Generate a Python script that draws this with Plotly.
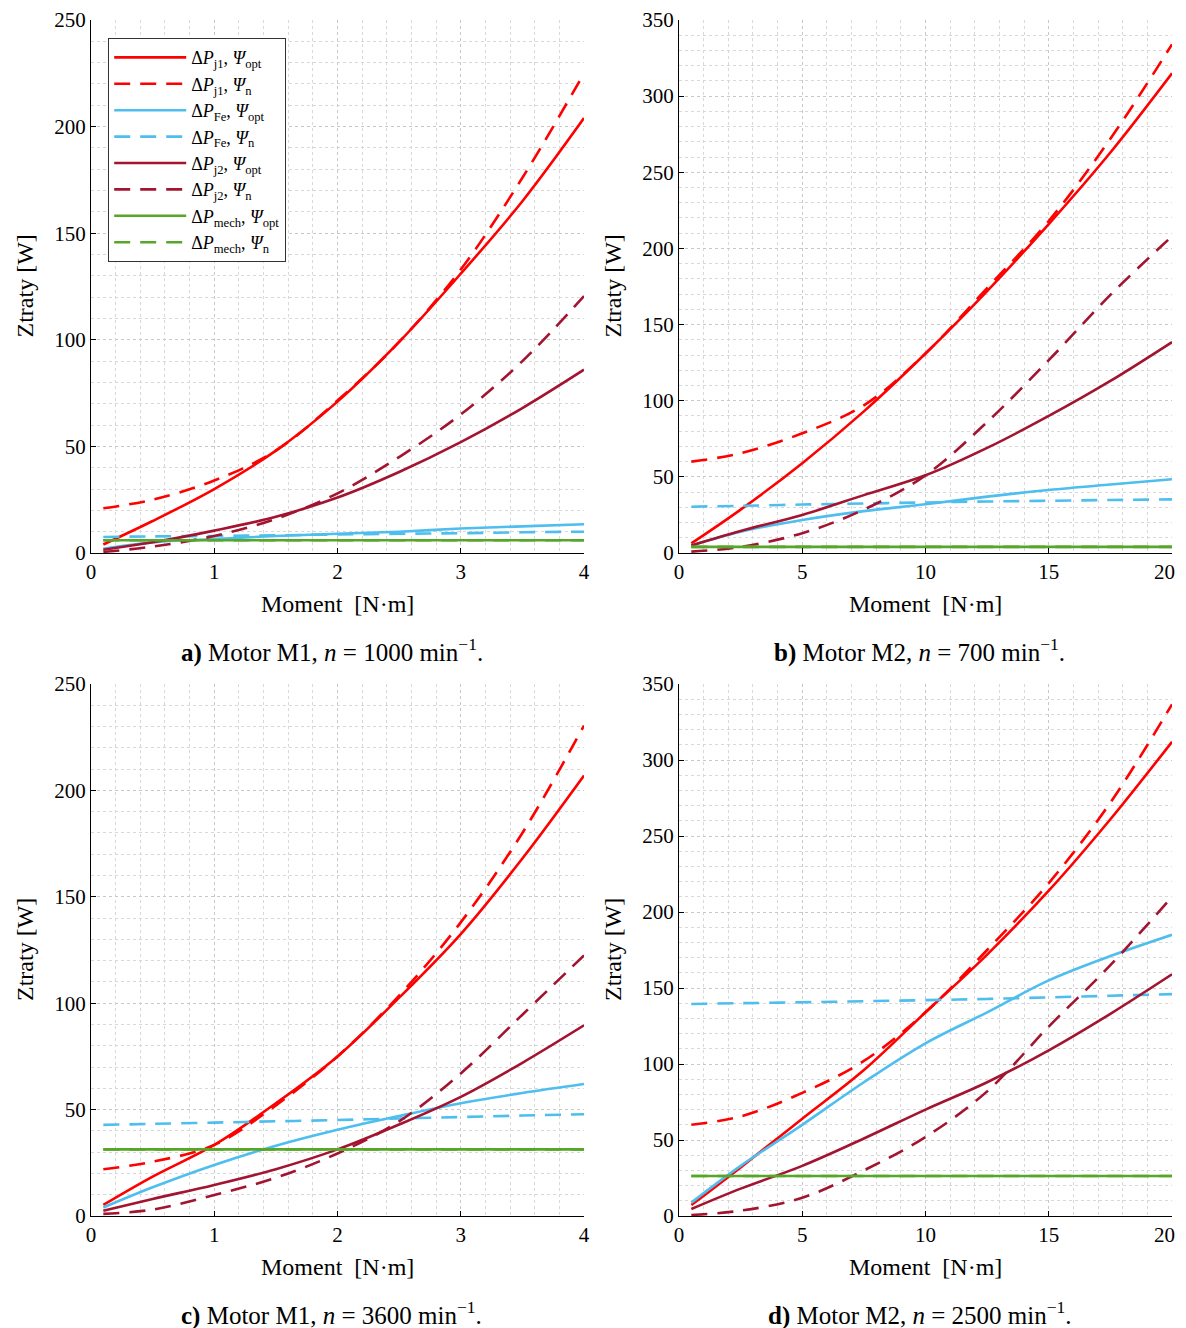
import plotly.graph_objects as go

# ---------------- data ----------------
T1 = [0.1, 0.5, 1.0, 1.5, 2.0, 2.5, 3.0, 3.5, 4.0]          # Motor M1 torque [N·m]
T2 = [0.5, 2.5, 5.0, 7.5, 10.0, 12.5, 15.0, 17.5, 20.0]     # Motor M2 torque [N·m]

# a) Motor M1, n = 1000 min^-1
a_pj1_opt = [4, 15, 30, 48, 71, 99, 131, 165, 204]
a_pj1_n = [21, 25, 34, 48, 71.5, 99, 133, 176, 225]
a_pfe_opt = [2, 5, 6.5, 8, 9, 10, 11.5, 12.5, 13.5]
a_pfe_n = [7.5, 7.8, 8, 8.3, 8.7, 9, 9.3, 9.7, 10]
a_pj2_opt = [1.5, 5, 10.5, 17, 26, 38, 52, 68, 86]
a_pj2_n = [0.5, 3, 8, 16, 28, 45, 65, 90, 120.5]
a_mech_opt = [6, 6, 6, 6, 6, 6, 6, 6, 6]
a_mech_n = [6, 6, 6, 6, 6, 6, 6, 6, 6]

# b) Motor M2, n = 700 min^-1
b_pj1_opt = [6.3, 28.5, 59, 93, 131, 172, 216, 263, 315]
b_pj1_n = [60, 65.5, 78.6, 97, 131, 174, 218, 272, 334]
b_pfe_opt = [5, 14, 21.7, 27.5, 32, 37, 41.4, 45, 48.4]
b_pfe_n = [30.4, 31, 31.8, 32.5, 33.2, 33.8, 34.3, 34.8, 35.2]
b_pj2_opt = [5, 14.5, 25, 38, 51, 69, 90, 113, 138.5]
b_pj2_n = [0.9, 4, 13, 28.5, 51, 86, 126.6, 169.5, 208]
b_mech_opt = [4, 4, 4, 4, 4, 4, 4, 4, 4]
b_mech_n = [4, 4, 4, 4, 4, 4, 4, 4, 4]

# c) Motor M1, n = 3600 min^-1
c_pj1_opt = [5.2, 18.5, 33.4, 53, 75, 102.6, 132.5, 168, 207]
c_pj1_n = [22, 25.5, 33.4, 52, 75, 103.6, 138, 180, 230.5]
c_pfe_opt = [4, 13.5, 24, 33, 40.5, 47, 53, 57.8, 62]
c_pfe_n = [42.8, 43.3, 43.9, 44.5, 45.1, 45.8, 46.5, 47.2, 47.8]
c_pj2_opt = [2.5, 8, 14.6, 22, 31.3, 43, 56, 72, 89.6]
c_pj2_n = [1, 3, 9.9, 18, 29.4, 44.5, 67, 94.6, 122.5]
c_mech_opt = [31.3, 31.3, 31.3, 31.3, 31.3, 31.3, 31.3, 31.3, 31.3]
c_mech_n = [31.3, 31.3, 31.3, 31.3, 31.3, 31.3, 31.3, 31.3, 31.3]

# d) Motor M2, n = 2500 min^-1
d_pj1_opt = [7.2, 32, 64, 96, 134, 172, 214, 261, 312]
d_pj1_n = [60, 65.5, 81, 102, 134, 175, 219, 272, 336.6]
d_pfe_opt = [8.8, 33, 60, 88, 113.6, 134, 155, 171, 185]
d_pfe_n = [139.5, 140, 140.6, 141.3, 142, 142.8, 143.8, 144.9, 146]
d_pj2_opt = [4.6, 18, 33, 51, 70, 88, 109, 133, 159]
d_pj2_n = [0.7, 3.5, 12, 30, 52, 82, 124.6, 165, 210]
d_mech_opt = [26.3, 26.3, 26.3, 26.3, 26.3, 26.3, 26.3, 26.3, 26.3]
d_mech_n = [26.3, 26.3, 26.3, 26.3, 26.3, 26.3, 26.3, 26.3, 26.3]

legend_names = [
    "Δ<i>P</i><sub>j1</sub>, <i>Ψ</i><sub>opt</sub>",
    "Δ<i>P</i><sub>j1</sub>, <i>Ψ</i><sub>n</sub>",
    "Δ<i>P</i><sub>Fe</sub>, <i>Ψ</i><sub>opt</sub>",
    "Δ<i>P</i><sub>Fe</sub>, <i>Ψ</i><sub>n</sub>",
    "Δ<i>P</i><sub>j2</sub>, <i>Ψ</i><sub>opt</sub>",
    "Δ<i>P</i><sub>j2</sub>, <i>Ψ</i><sub>n</sub>",
    "Δ<i>P</i><sub>mech</sub>, <i>Ψ</i><sub>opt</sub>",
    "Δ<i>P</i><sub>mech</sub>, <i>Ψ</i><sub>n</sub>",
]
captions = [
    "<b>a)</b> Motor M1, <i>n</i> = 1000 min<sup>−1</sup>.",
    "<b>b)</b> Motor M2, <i>n</i> = 700 min<sup>−1</sup>.",
    "<b>c)</b> Motor M1, <i>n</i> = 3600 min<sup>−1</sup>.",
    "<b>d)</b> Motor M2, <i>n</i> = 2500 min<sup>−1</sup>.",
]
x_ticks_m1 = [0, 1, 2, 3, 4]
x_ticks_m2 = [0, 5, 10, 15, 20]
x_labels_m1 = ["0", "1", "2", "3", "4"]
x_labels_m2 = ["0", "5", "10", "15", "20"]
y_max = [250, 350, 250, 350]

# ---------------- styling ----------------
RED = "#FF0000"
BLUE = "#4DBEEE"
DRED = "#A2142F"
GREEN = "#56A62A"
colors = [RED, RED, BLUE, BLUE, DRED, DRED, GREEN, GREEN]
dashes = ["solid", "16px,10px"] * 4
FONT = "Liberation Serif, Times New Roman, serif"

panels = [
    (T1, [a_pj1_opt, a_pj1_n, a_pfe_opt, a_pfe_n, a_pj2_opt, a_pj2_n, a_mech_opt, a_mech_n]),
    (T2, [b_pj1_opt, b_pj1_n, b_pfe_opt, b_pfe_n, b_pj2_opt, b_pj2_n, b_mech_opt, b_mech_n]),
    (T1, [c_pj1_opt, c_pj1_n, c_pfe_opt, c_pfe_n, c_pj2_opt, c_pj2_n, c_mech_opt, c_mech_n]),
    (T2, [d_pj1_opt, d_pj1_n, d_pfe_opt, d_pfe_n, d_pj2_opt, d_pj2_n, d_mech_opt, d_mech_n]),
]

# the page body adds an 8px margin (and the visible width ends 8px early);
# lay out in page pixels and shift
OFF = 8
W, H = 1186 - 2 * OFF, 1328 - OFF
# pixel boxes of plot areas in page coords: (x0, x1, ytop, ybottom)
boxes = [(91, 584, 20, 553), (679, 1172, 20, 553), (91, 584, 684, 1216), (679, 1172, 684, 1216)]


def px(x):
    return (x - OFF) / W


def py(y):
    return 1 - (y - OFF) / H


fig = go.Figure()
annotations = []
for i, (T, series) in enumerate(panels):
    xa = "x" if i == 0 else f"x{i+1}"
    ya = "y" if i == 0 else f"y{i+1}"
    for j, ys in enumerate(series):
        fig.add_trace(go.Scatter(
            x=T, y=ys, mode="lines", name=legend_names[j],
            line=dict(color=colors[j], width=2.6, dash=dashes[j], shape="spline", smoothing=1.0),
            xaxis=xa, yaxis=ya, showlegend=(i == 0),
        ))
    x0, x1, yt, yb = boxes[i]
    m1 = (i % 2 == 0)
    labels = list(x_labels_m1 if m1 else x_labels_m2)
    if not m1:
        last_label = labels[-1]
        labels[-1] = ""  # drawn separately so it stays inside the page
    xaxis = dict(
        domain=[px(x0), px(x1)], anchor=ya, automargin=False,
        range=[0, 4] if m1 else [0, 20],
        tickvals=x_ticks_m1 if m1 else x_ticks_m2, ticktext=labels,
        showline=True, linecolor="black", linewidth=1.2, mirror=False,
        ticks="inside", ticklen=5, tickcolor="black",
        showgrid=True, gridcolor="#c8c8c8", griddash="dot", gridwidth=1,
        minor=dict(dtick=0.2 if m1 else 1, showgrid=True, gridcolor="#d8d8d8", griddash="dot", gridwidth=1),
        zeroline=False,
        tickfont=dict(family=FONT, size=21, color="black"),
    )
    yaxis = dict(
        domain=[py(yb), py(yt)], anchor=xa, automargin=False,
        range=[0, y_max[i]], dtick=50,
        showline=True, linecolor="black", linewidth=1.2, mirror=False,
        ticks="inside", ticklen=5, tickcolor="black",
        showgrid=True, gridcolor="#c8c8c8", griddash="dot", gridwidth=1,
        minor=dict(dtick=10, showgrid=True, gridcolor="#d8d8d8", griddash="dot", gridwidth=1),
        zeroline=False,
        tickfont=dict(family=FONT, size=21, color="black"),
    )
    key_x = "xaxis" if i == 0 else f"xaxis{i+1}"
    key_y = "yaxis" if i == 0 else f"yaxis{i+1}"
    fig.update_layout({key_x: xaxis, key_y: yaxis})

    if not m1:
        annotations.append(dict(
            text=last_label, x=1.0, y=py(yb + 19), xref="paper", yref="paper",
            showarrow=False, font=dict(family=FONT, size=21, color="black"),
            xanchor="right", yanchor="middle", xshift=-1,
        ))

    cx = (x0 + x1) / 2
    # x-axis title
    annotations.append(dict(
        text="Moment  [N·m]", x=px(cx), y=py(yb + 51), xref="paper", yref="paper",
        showarrow=False, font=dict(family=FONT, size=24, color="black"),
        xanchor="center", yanchor="middle",
    ))
    # y-axis title
    annotations.append(dict(
        text="Ztraty [W]", x=px(x0 - 66), y=py((yt + yb) / 2), xref="paper", yref="paper",
        showarrow=False, textangle=-90, font=dict(family=FONT, size=24, color="black"),
        xanchor="center", yanchor="middle",
    ))
    # caption
    annotations.append(dict(
        text=captions[i], x=px(cx - 6), y=py(yb + 97), xref="paper", yref="paper",
        showarrow=False, font=dict(family=FONT, size=25, color="black"),
        xanchor="center", yanchor="middle",
    ))

fig.update_layout(
    width=W, height=H,
    margin=dict(l=0, r=0, t=0, b=0),
    paper_bgcolor="white", plot_bgcolor="white",
    font=dict(family=FONT, color="black"),
    annotations=annotations,
    legend=dict(
        x=px(108), y=py(38), xanchor="left", yanchor="top",
        bgcolor="white", bordercolor="#333333", borderwidth=1.2,
        font=dict(family=FONT, size=18, color="black"),
        tracegroupgap=0, itemwidth=72,
    ),
)

fig.write_html("out.html")
